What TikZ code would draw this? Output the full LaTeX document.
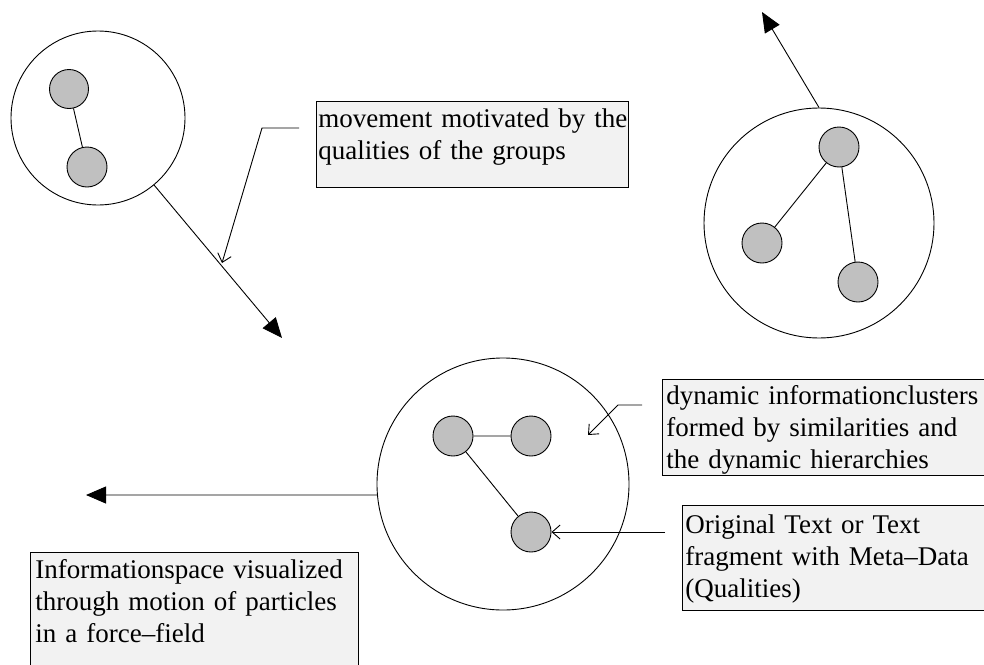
\documentclass[tikz,border=0pt]{standalone}
\usepackage{fontspec}
\setmainfont{Liberation Serif}
\usetikzlibrary{arrows.meta}
\definecolor{particlegray}{RGB}{192,192,192}
\definecolor{notegray}{RGB}{242,242,242}
\begin{document}
\begin{tikzpicture}[x=1pt,y=-1pt,line width=0.9pt,
    cluster/.style={draw,circle,inner sep=0pt},
    particle/.style={draw,circle,fill=particlegray,minimum size=40pt,inner sep=0pt},
    notebox/.style={draw,fill=notegray,inner sep=0pt,anchor=north west},
    notetext/.style={anchor=base west,inner sep=0pt,text width=340pt,align=left,
      font=\fontsize{27pt}{32pt}\selectfont},
    motion/.style={-{Triangle[length=20pt,width=17pt]}},
    pointer/.style={-{Straight Barb[length=8pt,width=14pt]}}]
  \useasboundingbox (0,0) rectangle (984,664);
  % cluster top left, moving down
  \node[cluster,minimum size=174pt] (ca) at (98,118) {};
  \node[particle,minimum size=39pt] (ca1) at (69,89) {};
  \node[particle] (ca2) at (87,167) {};
  \draw (ca1) -- (ca2);
  \coordinate (ta) at (282,338);
  \draw[motion] (ca) -- (ta);
  % cluster top right, moving up
  \node[cluster,minimum size=230pt] (cb) at (819,223) {};
  \node[particle] (cb1) at (839,147) {};
  \node[particle] (cb2) at (762,243) {};
  \node[particle] (cb3) at (858,282) {};
  \draw (cb1) -- (cb2) (cb1) -- (cb3);
  \coordinate (tb) at (762,12);
  \draw[motion] (cb.north) -- (tb);
  % cluster bottom, moving left
  \node[cluster,minimum size=252pt] (cc) at (503,484) {};
  \node[particle] (cc1) at (453,436) {};
  \node[particle] (cc2) at (531,436) {};
  \node[particle] (cc3) at (531,532) {};
  \draw (cc1) -- (cc2) (cc1) -- (cc3);
  \coordinate (tc) at (86,495);
  \draw[motion] (cc.185) -- (tc);
  % notes
  \node[notebox,minimum width=312pt,minimum height=86pt] (movebox) at (316,101) {};
  \node[notetext] (movetext) at (318,127) {movement motivated by the\\qualities of the groups};
  \node[notebox,minimum width=324pt,minimum height=96pt] (dynbox) at (662,379) {};
  \node[notetext] (dyntext) at (666,404) {dynamic informationclusters\\formed by similarities and\\the dynamic hierarchies};
  \node[notebox,minimum width=304pt,minimum height=105pt] (origbox) at (682,505) {};
  \node[notetext] (origtext) at (685,533) {Original Text or Text\\fragment with Meta--Data\\(Qualities)};
  \node[notebox,minimum width=328pt,minimum height=120pt] (infobox) at (30,552) {};
  \node[notetext] (infotext) at (35,578) {Informationspace visualized\\through motion of particles\\in a force--field};
  % pointers from the notes
  \coordinate (ma) at (299,128);
  \coordinate (mb) at (262,128);
  \coordinate (mc) at (222,263);
  \draw[pointer] (ma) -- (mb) -- (mc);
  \coordinate (da) at (642,405);
  \coordinate (db) at (618,405);
  \coordinate (dc) at (588,435);
  \draw[pointer] (da) -- (db) -- (dc);
  \coordinate (oa) at (665,532);
  \draw[pointer] (oa) -- (cc3);
\end{tikzpicture}
\end{document}
